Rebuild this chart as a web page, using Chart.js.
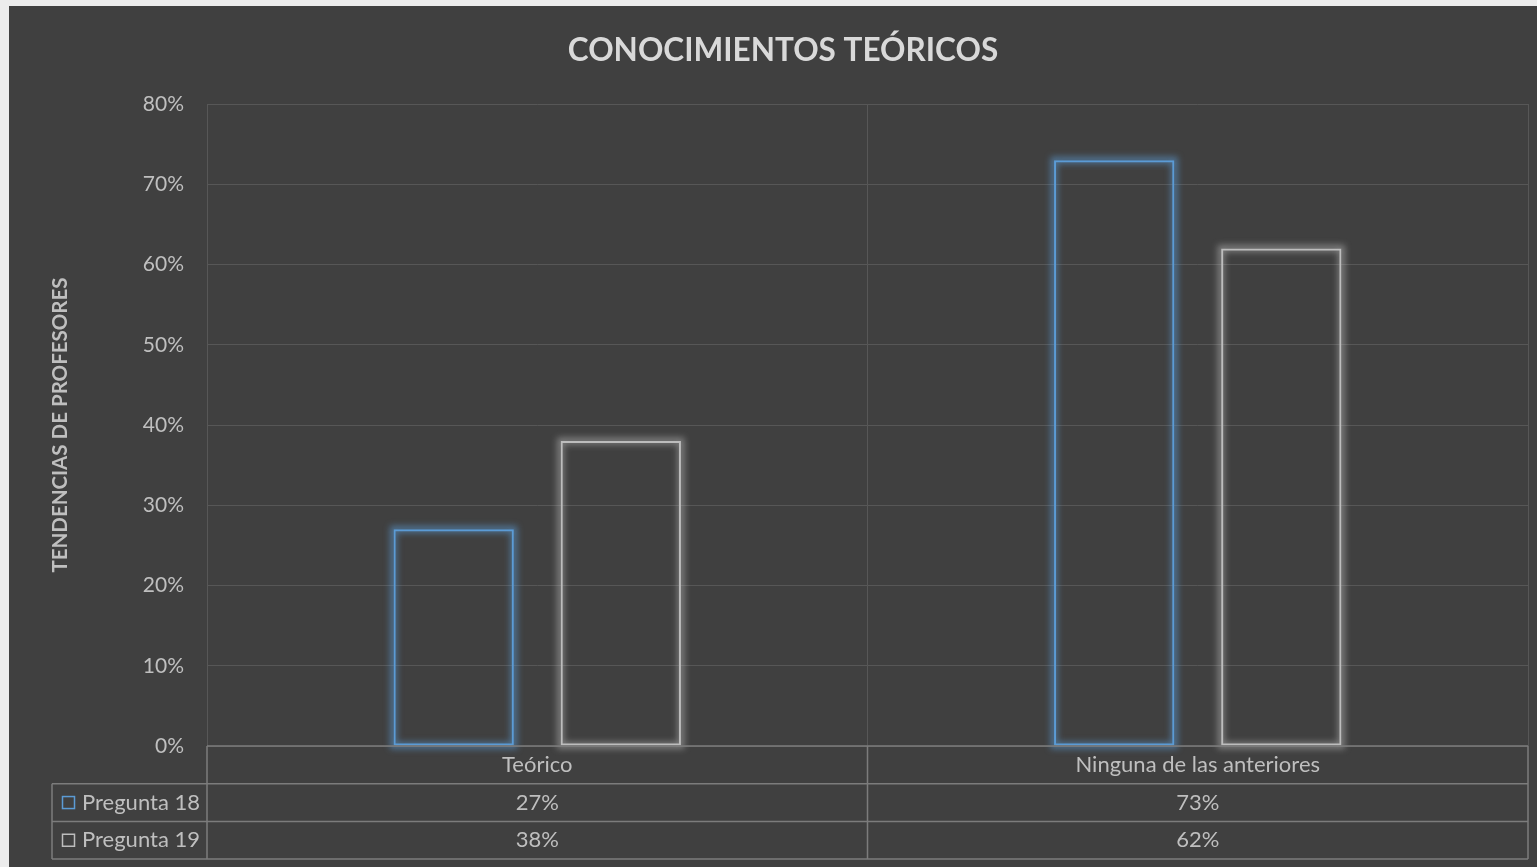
<!DOCTYPE html>
<html lang="es">
<head>
<meta charset="utf-8">
<title>Conocimientos teóricos</title>
<script src="https://cdn.jsdelivr.net/npm/chart.js@4"></script>
<style>
  html, body {
    margin: 0;
    padding: 0;
    background: #ececec;
    overflow: hidden;
  }
  .frame {
    position: absolute;
    left: 9px;
    top: 6px;
    width: 1528px;
    height: 861px;
    background: #404040;
  }
  canvas {
    display: block;
  }
</style>
</head>
<body>
<div class="frame">
  <canvas id="chart" width="1528" height="861"></canvas>
</div>
<script>
const categories = ['Teórico', 'Ninguna de las anteriores'];
const seriesNames = ['Pregunta 18', 'Pregunta 19'];
const pregunta18 = [27, 73];
const pregunta19 = [38, 62];
const seriesColors = ['#5b9bd5', '#bdbdbd'];
const glowColors = ['rgba(91, 155, 213, 0.55)', 'rgba(200, 200, 200, 0.45)'];

const FONT = 'Lato, "Open Sans", sans-serif';
const TEXT = '#bfbfbf';
const GRID = '#575757';
const TABLE_LINE = '#7c7c7c';

// blurred halo under each bar outline, taken from the bar elements themselves
const glowPlugin = {
    id: 'glow',
    beforeDatasetDraw(chart, args) {
        const ctx = chart.ctx;
        const meta = chart.getDatasetMeta(args.index);
        ctx.save();
        ctx.filter = 'blur(3px)';
        ctx.strokeStyle = glowColors[args.index];
        ctx.lineWidth = 7;
        meta.data.forEach((bar) => {
            const { x, y, width, base } = bar.getProps(['x', 'y', 'width', 'base'], true);
            ctx.strokeRect(x - width / 2, y, width, base - y);
        });
        ctx.restore();
    }
};

// title, y axis caption and the data table under the plot
const textPlugin = {
    id: 'extras',
    afterDraw(chart) {
        const ctx = chart.ctx;
        const area = chart.chartArea;
        const x = chart.scales.x;
        const rowH = 37.7;
        const tableLeft = 43;
        const rows = [pregunta18, pregunta19];

        ctx.save();

        // title
        ctx.fillStyle = '#d9d9d9';
        ctx.font = 'bold 31.5px ' + FONT;
        ctx.textAlign = 'center';
        ctx.textBaseline = 'middle';
        ctx.fillText('CONOCIMIENTOS TEÓRICOS', 774, 45);

        // axis caption
        ctx.save();
        ctx.translate(51, (area.top + area.bottom) / 2);
        ctx.rotate(-Math.PI / 2);
        ctx.fillStyle = TEXT;
        ctx.font = 'bold 20.5px ' + FONT;
        ctx.fillText('TENDENCIAS DE PROFESORES', 0, 0);
        ctx.restore();

        // table grid
        ctx.strokeStyle = TABLE_LINE;
        ctx.lineWidth = 1.5;
        const y0 = area.bottom;
        const y1 = y0 + rowH;
        const y3 = y0 + rowH * 3;
        ctx.beginPath();
        ctx.moveTo(area.left, y0); ctx.lineTo(area.right, y0);
        ctx.moveTo(tableLeft, y1); ctx.lineTo(area.right, y1);
        ctx.moveTo(tableLeft, y0 + rowH * 2); ctx.lineTo(area.right, y0 + rowH * 2);
        ctx.moveTo(tableLeft, y3); ctx.lineTo(area.right, y3);
        ctx.moveTo(tableLeft, y1); ctx.lineTo(tableLeft, y3);
        ctx.moveTo(area.left, y0); ctx.lineTo(area.left, y3);
        ctx.moveTo(area.right, y0); ctx.lineTo(area.right, y3);
        const mid = (x.getPixelForValue(0) + x.getPixelForValue(1)) / 2;
        ctx.moveTo(mid, y0); ctx.lineTo(mid, y3);
        ctx.stroke();

        ctx.font = '22px ' + FONT;
        ctx.fillStyle = TEXT;
        ctx.textAlign = 'center';
        categories.forEach((c, i) => {
            ctx.fillText(c, x.getPixelForValue(i), y0 + rowH / 2);
        });
        rows.forEach((vals, r) => {
            const yc = y0 + rowH * (r + 1.5);
            vals.forEach((v, i) => {
                ctx.fillText(v + '%', x.getPixelForValue(i), yc);
            });
            // legend key
            ctx.strokeStyle = seriesColors[r];
            ctx.lineWidth = 1.5;
            ctx.strokeRect(53.5, yc - 6, 12, 12);
            ctx.textAlign = 'left';
            ctx.fillText(seriesNames[r], 73, yc);
            ctx.textAlign = 'center';
        });

        ctx.restore();
    }
};

new Chart(document.getElementById('chart'), {
    type: 'bar',
    data: {
        labels: categories,
        datasets: [
            {
                label: seriesNames[0],
                data: pregunta18,
                backgroundColor: 'rgba(0, 0, 0, 0)',
                borderColor: seriesColors[0],
                borderWidth: 2,
                borderSkipped: false
            },
            {
                label: seriesNames[1],
                data: pregunta19,
                backgroundColor: 'rgba(0, 0, 0, 0)',
                borderColor: seriesColors[1],
                borderWidth: 2,
                borderSkipped: false
            }
        ]
    },
    options: {
        responsive: false,
        animation: false,
        categoryPercentage: 0.506,
        barPercentage: 0.72,
        layout: {
            padding: { left: 0, top: 98, right: 9, bottom: 121 }
        },
        plugins: {
            legend: { display: false },
            title: { display: false },
            tooltip: { enabled: false }
        },
        scales: {
            x: {
                grid: {
                    color: GRID,
                    lineWidth: 1,
                    drawTicks: false
                },
                border: { display: false },
                ticks: { display: false },
                afterFit(scale) {
                    scale.height = 0;
                }
            },
            y: {
                min: 0,
                max: 80,
                grid: {
                    color: GRID,
                    lineWidth: 1,
                    drawTicks: false
                },
                border: { display: false },
                ticks: {
                    stepSize: 10,
                    padding: 23,
                    color: TEXT,
                    font: { family: FONT, size: 21 },
                    callback: (v) => v + '%'
                },
                afterFit(scale) {
                    scale.width = 198;
                }
            }
        }
    },
    plugins: [glowPlugin, textPlugin]
});
</script>
</body>
</html>
